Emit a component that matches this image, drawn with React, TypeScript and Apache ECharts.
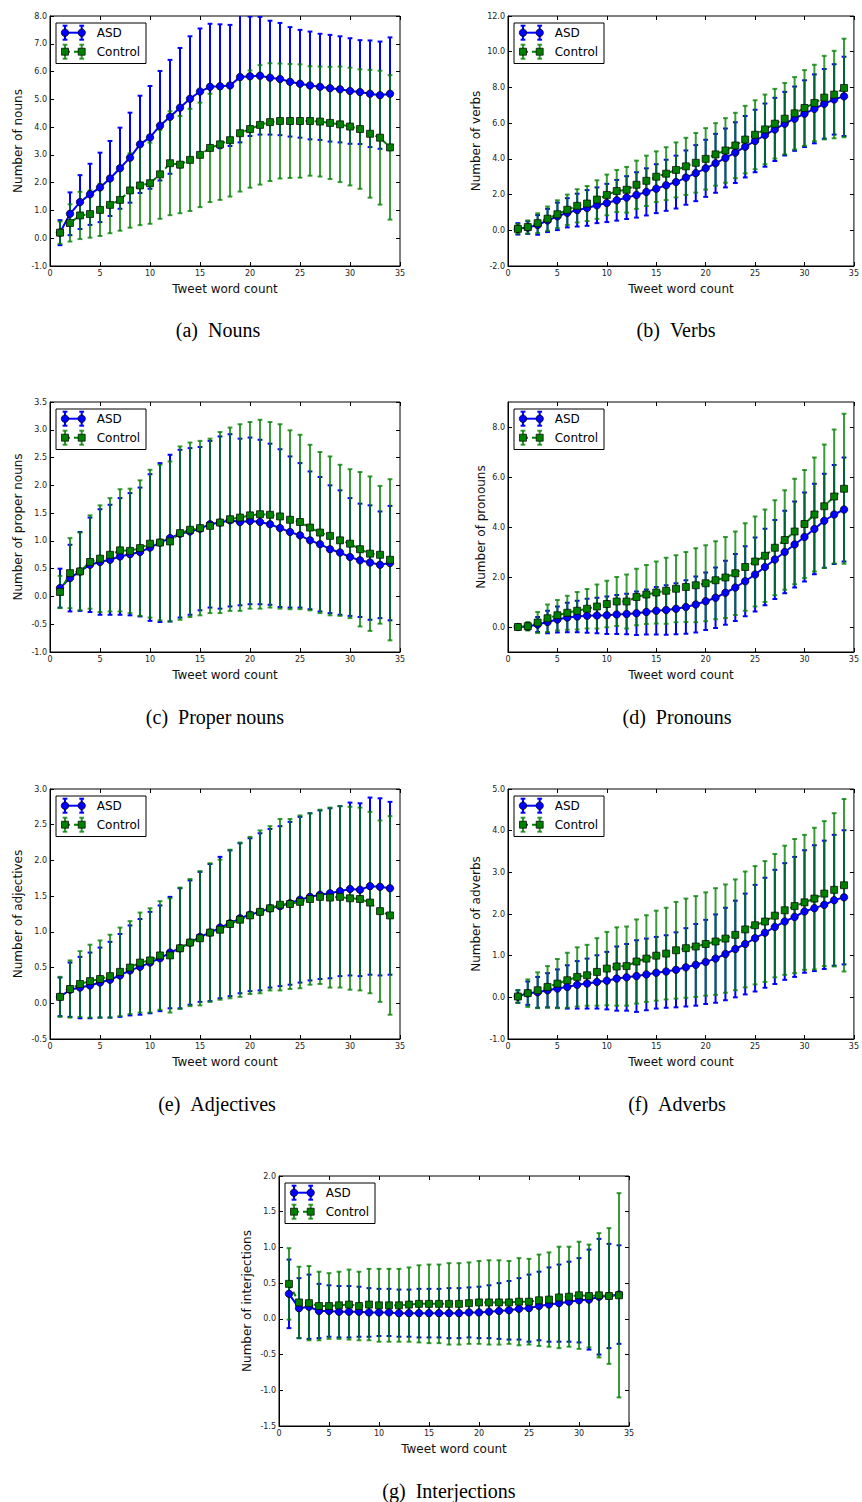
import React, { useEffect, useRef } from "react";
import * as echarts from "echarts";

const wordCount = [1, 2, 3, 4, 5, 6, 7, 8, 9, 10, 11, 12, 13, 14, 15, 16, 17, 18, 19, 20, 21, 22, 23, 24, 25, 26, 27, 28, 29, 30, 31, 32, 33, 34];
const xTicks = [0, 35, 5];

// (a) Nouns
const nounsAsdMean = [0.2, 0.88, 1.3, 1.58, 1.83, 2.15, 2.52, 2.9, 3.38, 3.63, 4.05, 4.37, 4.7, 5.02, 5.28, 5.45, 5.47, 5.5, 5.8, 5.83, 5.85, 5.78, 5.73, 5.63, 5.56, 5.5, 5.45, 5.4, 5.36, 5.3, 5.26, 5.2, 5.15, 5.2];
const nounsAsdStd = [0.45, 0.77, 0.97, 1.1, 1.25, 1.35, 1.46, 1.62, 1.75, 1.85, 1.97, 2.05, 2.15, 2.25, 2.27, 2.27, 2.23, 2.18, 2.35, 2.15, 2.12, 2.05, 2.02, 1.97, 1.94, 1.94, 1.91, 1.92, 1.91, 1.9, 1.87, 1.92, 1.93, 2.03];
const nounsCtrlMean = [0.2, 0.55, 0.82, 0.87, 1.02, 1.2, 1.38, 1.72, 1.9, 1.98, 2.3, 2.7, 2.65, 2.82, 3.0, 3.25, 3.38, 3.53, 3.78, 3.93, 4.08, 4.18, 4.22, 4.22, 4.22, 4.22, 4.2, 4.15, 4.1, 4.02, 3.93, 3.76, 3.62, 3.27];
const nounsCtrlStd = [0.4, 0.67, 0.85, 0.85, 0.94, 1.02, 1.11, 1.34, 1.43, 1.46, 1.6, 1.87, 1.75, 1.84, 1.88, 1.95, 2.0, 2.03, 2.1, 2.11, 2.15, 2.12, 2.07, 2.05, 2.04, 1.97, 1.98, 2.02, 2.08, 2.12, 2.15, 2.3, 2.41, 2.6];

// (b) Verbs
const verbsAsdMean = [0.08, 0.15, 0.3, 0.55, 0.78, 0.98, 1.13, 1.25, 1.4, 1.53, 1.68, 1.83, 1.98, 2.15, 2.33, 2.52, 2.7, 2.95, 3.2, 3.47, 3.75, 4.05, 4.35, 4.68, 5.0, 5.33, 5.65, 5.97, 6.25, 6.53, 6.8, 7.08, 7.33, 7.5];
const verbsAsdStd = [0.32, 0.35, 0.55, 0.65, 0.77, 0.82, 0.92, 1.0, 1.0, 1.07, 1.14, 1.2, 1.27, 1.32, 1.37, 1.43, 1.48, 1.52, 1.57, 1.6, 1.65, 1.65, 1.7, 1.72, 1.75, 1.77, 1.77, 1.78, 1.8, 1.87, 1.93, 1.95, 1.97, 2.22];
const verbsCtrlMean = [0.08, 0.18, 0.4, 0.65, 0.9, 1.15, 1.37, 1.5, 1.72, 1.98, 2.2, 2.27, 2.55, 2.77, 3.0, 3.17, 3.38, 3.58, 3.78, 4.0, 4.25, 4.47, 4.75, 5.08, 5.35, 5.65, 5.97, 6.25, 6.55, 6.85, 7.13, 7.43, 7.6, 7.97];
const verbsCtrlStd = [0.27, 0.37, 0.55, 0.68, 0.78, 0.85, 0.93, 0.98, 1.08, 1.14, 1.18, 1.28, 1.35, 1.41, 1.42, 1.48, 1.54, 1.6, 1.67, 1.72, 1.75, 1.81, 1.83, 1.89, 1.93, 1.95, 1.95, 2.0, 2.03, 2.12, 2.14, 2.34, 2.45, 2.76];

// (c) Proper nouns
const properAsdMean = [0.15, 0.33, 0.45, 0.57, 0.62, 0.66, 0.72, 0.76, 0.8, 0.88, 0.97, 1.05, 1.13, 1.17, 1.22, 1.3, 1.33, 1.37, 1.34, 1.36, 1.34, 1.3, 1.23, 1.16, 1.1, 1.01, 0.94, 0.85, 0.79, 0.71, 0.65, 0.61, 0.57, 0.6];
const properAsdStd = [0.35, 0.6, 0.71, 0.85, 0.95, 0.99, 1.05, 1.1, 1.16, 1.32, 1.43, 1.5, 1.51, 1.5, 1.47, 1.5, 1.55, 1.55, 1.5, 1.5, 1.48, 1.45, 1.42, 1.36, 1.3, 1.24, 1.21, 1.15, 1.12, 1.06, 1.02, 1.03, 0.96, 1.03];
const properCtrlMean = [0.08, 0.42, 0.45, 0.62, 0.68, 0.75, 0.83, 0.82, 0.87, 0.95, 0.97, 0.99, 1.14, 1.2, 1.23, 1.27, 1.33, 1.39, 1.42, 1.46, 1.48, 1.47, 1.44, 1.38, 1.34, 1.24, 1.15, 1.09, 1.01, 0.95, 0.85, 0.77, 0.75, 0.66];
const properCtrlStd = [0.29, 0.63, 0.7, 0.84, 0.96, 1.02, 1.1, 1.12, 1.22, 1.33, 1.4, 1.44, 1.56, 1.57, 1.57, 1.57, 1.63, 1.65, 1.68, 1.68, 1.7, 1.67, 1.66, 1.61, 1.57, 1.49, 1.45, 1.43, 1.36, 1.34, 1.39, 1.39, 1.24, 1.45];

// (d) Pronouns
const pronAsdMean = [0.0, 0.02, 0.1, 0.2, 0.3, 0.38, 0.42, 0.45, 0.46, 0.47, 0.5, 0.52, 0.55, 0.6, 0.65, 0.68, 0.73, 0.8, 0.9, 1.03, 1.17, 1.37, 1.58, 1.83, 2.1, 2.4, 2.7, 3.0, 3.3, 3.6, 3.92, 4.25, 4.5, 4.7];
const pronAsdStd = [0.02, 0.13, 0.3, 0.45, 0.52, 0.59, 0.63, 0.68, 0.71, 0.75, 0.78, 0.81, 0.87, 0.9, 0.95, 0.99, 1.02, 1.07, 1.12, 1.15, 1.21, 1.28, 1.34, 1.4, 1.48, 1.53, 1.58, 1.65, 1.72, 1.78, 1.81, 1.88, 1.98, 2.08];
const pronCtrlMean = [0.0, 0.03, 0.18, 0.35, 0.47, 0.57, 0.65, 0.73, 0.82, 0.92, 1.02, 1.02, 1.2, 1.3, 1.38, 1.45, 1.53, 1.6, 1.67, 1.75, 1.87, 1.98, 2.15, 2.4, 2.62, 2.85, 3.17, 3.48, 3.82, 4.12, 4.5, 4.83, 5.22, 5.53];
const pronCtrlStd = [0.02, 0.17, 0.42, 0.55, 0.61, 0.68, 0.75, 0.79, 0.88, 0.93, 0.98, 1.08, 1.13, 1.18, 1.24, 1.32, 1.34, 1.4, 1.48, 1.52, 1.56, 1.62, 1.67, 1.75, 1.8, 1.85, 1.9, 1.99, 2.11, 2.16, 2.28, 2.47, 2.68, 3.0];

// (e) Adjectives
const adjAsdMean = [0.09, 0.19, 0.22, 0.25, 0.29, 0.33, 0.39, 0.46, 0.51, 0.57, 0.63, 0.71, 0.77, 0.85, 0.93, 0.99, 1.06, 1.12, 1.19, 1.24, 1.28, 1.33, 1.36, 1.4, 1.45, 1.49, 1.52, 1.54, 1.57, 1.6, 1.59, 1.64, 1.63, 1.61];
const adjAsdStd = [0.27, 0.38, 0.43, 0.46, 0.49, 0.53, 0.58, 0.63, 0.67, 0.71, 0.74, 0.78, 0.84, 0.87, 0.91, 0.96, 0.99, 1.02, 1.05, 1.07, 1.1, 1.11, 1.12, 1.14, 1.16, 1.17, 1.18, 1.19, 1.19, 1.21, 1.21, 1.24, 1.24, 1.21];
const adjCtrlMean = [0.09, 0.2, 0.27, 0.31, 0.34, 0.38, 0.44, 0.5, 0.57, 0.6, 0.67, 0.67, 0.77, 0.85, 0.91, 0.99, 1.03, 1.11, 1.17, 1.23, 1.28, 1.33, 1.38, 1.39, 1.42, 1.46, 1.49, 1.48, 1.49, 1.47, 1.46, 1.41, 1.29, 1.23];
const adjCtrlStd = [0.28, 0.4, 0.46, 0.51, 0.54, 0.58, 0.62, 0.65, 0.7, 0.73, 0.76, 0.8, 0.85, 0.89, 0.94, 0.97, 0.98, 1.04, 1.08, 1.1, 1.14, 1.15, 1.2, 1.19, 1.21, 1.2, 1.22, 1.26, 1.27, 1.28, 1.28, 1.27, 1.27, 1.39];

// (f) Adverbs
const advAsdMean = [0.02, 0.1, 0.12, 0.17, 0.21, 0.25, 0.3, 0.33, 0.37, 0.4, 0.45, 0.48, 0.51, 0.55, 0.59, 0.62, 0.66, 0.72, 0.78, 0.85, 0.93, 1.04, 1.16, 1.28, 1.42, 1.55, 1.69, 1.82, 1.93, 2.06, 2.14, 2.22, 2.33, 2.4];
const advAsdStd = [0.15, 0.28, 0.37, 0.41, 0.46, 0.52, 0.57, 0.6, 0.64, 0.69, 0.77, 0.8, 0.86, 0.86, 0.86, 0.87, 0.9, 0.94, 0.98, 1.01, 1.06, 1.11, 1.16, 1.21, 1.28, 1.32, 1.37, 1.4, 1.44, 1.47, 1.51, 1.54, 1.57, 1.61];
const advCtrlMean = [0.02, 0.1, 0.17, 0.25, 0.33, 0.41, 0.49, 0.53, 0.61, 0.69, 0.74, 0.75, 0.86, 0.93, 1.0, 1.05, 1.13, 1.18, 1.22, 1.28, 1.34, 1.41, 1.5, 1.63, 1.73, 1.82, 1.96, 2.09, 2.19, 2.28, 2.37, 2.49, 2.58, 2.69];
const advCtrlStd = [0.15, 0.33, 0.43, 0.5, 0.59, 0.66, 0.71, 0.73, 0.81, 0.88, 0.94, 0.95, 1.01, 1.04, 1.08, 1.1, 1.16, 1.19, 1.21, 1.24, 1.28, 1.3, 1.33, 1.39, 1.42, 1.45, 1.48, 1.55, 1.61, 1.62, 1.7, 1.74, 1.84, 2.07];

// (g) Interjections
const intjAsdMean = [0.35, 0.15, 0.17, 0.11, 0.11, 0.1, 0.1, 0.1, 0.09, 0.09, 0.09, 0.08, 0.08, 0.08, 0.08, 0.08, 0.08, 0.08, 0.09, 0.09, 0.1, 0.11, 0.12, 0.14, 0.15, 0.18, 0.2, 0.22, 0.24, 0.26, 0.27, 0.31, 0.32, 0.34];
const intjAsdStd = [0.48, 0.42, 0.45, 0.38, 0.36, 0.36, 0.36, 0.35, 0.34, 0.33, 0.33, 0.33, 0.33, 0.34, 0.34, 0.34, 0.35, 0.35, 0.35, 0.36, 0.37, 0.39, 0.41, 0.43, 0.47, 0.48, 0.52, 0.54, 0.56, 0.59, 0.7, 0.81, 0.73, 0.69];
const intjCtrlMean = [0.49, 0.23, 0.22, 0.18, 0.18, 0.19, 0.2, 0.18, 0.2, 0.19, 0.19, 0.19, 0.2, 0.21, 0.21, 0.21, 0.21, 0.21, 0.22, 0.23, 0.23, 0.23, 0.23, 0.24, 0.24, 0.26, 0.27, 0.3, 0.31, 0.33, 0.32, 0.33, 0.32, 0.33];
const intjCtrlStd = [0.5, 0.5, 0.52, 0.48, 0.46, 0.47, 0.49, 0.48, 0.5, 0.51, 0.51, 0.51, 0.52, 0.54, 0.55, 0.55, 0.57, 0.57, 0.57, 0.58, 0.59, 0.59, 0.58, 0.61, 0.6, 0.64, 0.66, 0.71, 0.7, 0.75, 0.72, 0.87, 0.95, 1.43];

const yTitles = ["Number of nouns", "Number of verbs", "Number of proper nouns", "Number of pronouns", "Number of adjectives", "Number of adverbs", "Number of interjections"];
const captions = ["(a)\u00a0\u00a0Nouns", "(b)\u00a0\u00a0Verbs", "(c)\u00a0\u00a0Proper nouns", "(d)\u00a0\u00a0Pronouns", "(e)\u00a0\u00a0Adjectives", "(f)\u00a0\u00a0Adverbs", "(g)\u00a0\u00a0Interjections"];
// [min, max, interval]
const yRanges = [[-1, 8, 1], [-2, 12, 2], [-1, 3.5, 0.5], [-1, 9, 1], [-0.5, 3, 0.5], [-1, 5, 1], [-1.5, 2, 0.5]];
const pronounTicks = [0, 2, 4, 6, 8];
const seriesNames = ["ASD", "Control"];

const panelData = [
  [nounsAsdMean, nounsAsdStd, nounsCtrlMean, nounsCtrlStd],
  [verbsAsdMean, verbsAsdStd, verbsCtrlMean, verbsCtrlStd],
  [properAsdMean, properAsdStd, properCtrlMean, properCtrlStd],
  [pronAsdMean, pronAsdStd, pronCtrlMean, pronCtrlStd],
  [adjAsdMean, adjAsdStd, adjCtrlMean, adjCtrlStd],
  [advAsdMean, advAsdStd, advCtrlMean, advCtrlStd],
  [intjAsdMean, intjAsdStd, intjCtrlMean, intjCtrlStd],
];

// layout
const GW = 350;
const GH = 250;
const layout = [
  { left: 50, top: 16, nameGap: 26, capX: 218, capY: 330 },
  { left: 508, top: 16, nameGap: 26.5, capX: 676, capY: 330 },
  { left: 50, top: 402, nameGap: 26, capX: 215, capY: 717 },
  { left: 508, top: 402, nameGap: 21.5, capX: 677, capY: 717 },
  { left: 50, top: 789, nameGap: 26, capX: 217, capY: 1104 },
  { left: 508, top: 789, nameGap: 26.5, capX: 677, capY: 1104 },
  { left: 279, top: 1176, nameGap: 26, capX: 449, capY: 1491 },
];

const BLUE = "#0000ff";
const GREEN = "#008000";
const FONT = "DejaVu Sans";
const GREEN_BAR_OPACITY = 0.78;

function errorBarSeries(mean: number[], std: number[], color: string, opacity: number, idx: number) {
  return {
    type: "custom",
    xAxisIndex: 2 * idx,
    yAxisIndex: 2 * idx,
    clip: true,
    silent: true,
    z: 2,
    data: wordCount.map((x, i) => [x, mean[i] - std[i], mean[i] + std[i]]),
    encode: { x: 0, y: [1, 2] },
    renderItem: (params: any, api: any) => {
      const x = api.value(0);
      const a = api.coord([x, api.value(1)]);
      const b = api.coord([x, api.value(2)]);
      const cw = 2.4;
      const st = { stroke: color, lineWidth: 2, opacity };
      return {
        type: "group",
        children: [
          { type: "line", shape: { x1: a[0], y1: a[1], x2: b[0], y2: b[1] }, style: st },
          { type: "line", shape: { x1: a[0] - cw, y1: a[1], x2: a[0] + cw, y2: a[1] }, style: st },
          { type: "line", shape: { x1: b[0] - cw, y1: b[1], x2: b[0] + cw, y2: b[1] }, style: st },
        ],
      };
    },
  };
}

function legendBar(x: number, y: number, color: string, opacity: number) {
  const st = { stroke: color, lineWidth: 2, opacity };
  return [
    { type: "line", shape: { x1: x, y1: y - 7, x2: x, y2: y + 7 }, style: st },
    { type: "line", shape: { x1: x - 2.4, y1: y - 7, x2: x + 2.4, y2: y - 7 }, style: st },
    { type: "line", shape: { x1: x - 2.4, y1: y + 7, x2: x + 2.4, y2: y + 7 }, style: st },
  ];
}

function legendGraphic(gl: number, gt: number) {
  const bx = gl + 6;
  const by = gt + 7;
  const r1 = gt + 16.7;
  const r2 = gt + 35.7;
  const x1 = gl + 15;
  const x2 = gl + 31.7;
  const children: any[] = [
    { type: "rect", shape: { x: bx, y: by, width: 90, height: 40.5 }, style: { fill: "#fff", stroke: "#000", lineWidth: 1 } },
    { type: "line", shape: { x1, y1: r1, x2, y2: r1 }, style: { stroke: BLUE, lineWidth: 2 } },
    ...legendBar(x1, r1, BLUE, 1),
    ...legendBar(x2, r1, BLUE, 1),
    { type: "circle", shape: { cx: x1, cy: r1, r: 3.75 }, style: { fill: BLUE, stroke: "#000", lineWidth: 0.7 } },
    { type: "circle", shape: { cx: x2, cy: r1, r: 3.75 }, style: { fill: BLUE, stroke: "#000", lineWidth: 0.7 } },
    { type: "text", style: { text: seriesNames[0], x: gl + 46.7, y: r1, fontSize: 12, fontFamily: FONT, fill: "#000", align: "left", verticalAlign: "middle" } },
    { type: "line", shape: { x1, y1: r2, x2, y2: r2 }, style: { stroke: GREEN, lineWidth: 2, lineDash: [5, 4] } },
    ...legendBar(x1, r2, GREEN, GREEN_BAR_OPACITY),
    ...legendBar(x2, r2, GREEN, GREEN_BAR_OPACITY),
    { type: "rect", shape: { x: x1 - 3.5, y: r2 - 3.5, width: 7, height: 7 }, style: { fill: GREEN, stroke: "#000", lineWidth: 0.7 } },
    { type: "rect", shape: { x: x2 - 3.5, y: r2 - 3.5, width: 7, height: 7 }, style: { fill: GREEN, stroke: "#000", lineWidth: 0.7 } },
    { type: "text", style: { text: seriesNames[1], x: gl + 46.7, y: r2, fontSize: 12, fontFamily: FONT, fill: "#000", align: "left", verticalAlign: "middle" } },
  ];
  return { type: "group", silent: true, z: 100, children };
}

function buildOption() {
  const grid: any[] = [];
  const xAxis: any[] = [];
  const yAxis: any[] = [];
  const series: any[] = [];
  const graphic: any[] = [];
  const tickStyle = { show: true, inside: true, length: 4, lineStyle: { color: "#000", width: 1 } };

  layout.forEach((L, i) => {
    grid.push({ left: L.left, top: L.top, width: GW, height: GH, show: true, borderColor: "#000", borderWidth: 1, backgroundColor: "transparent" });
    xAxis.push({
      gridIndex: i, type: "value", min: xTicks[0], max: xTicks[1], interval: xTicks[2],
      axisLine: { show: true, onZero: false, lineStyle: { color: "#000", width: 1 } },
      axisTick: tickStyle,
      axisLabel: { fontFamily: FONT, fontSize: 8, color: "#222", margin: 3 },
      splitLine: { show: false },
      name: "Tweet word count", nameLocation: "middle", nameGap: 17,
      nameTextStyle: { fontFamily: FONT, fontSize: 12, color: "#111" },
    });
    xAxis.push({
      gridIndex: i, type: "value", position: "top", min: xTicks[0], max: xTicks[1], interval: xTicks[2],
      axisLine: { show: false, onZero: false }, axisTick: tickStyle, axisLabel: { show: false }, splitLine: { show: false },
    });
    const [ymin, ymax, yint] = yRanges[i];
    const custom = i === 3;
    const mainTick: any = custom ? { ...tickStyle, customValues: pronounTicks } : tickStyle;
    const mainLabel: any = { fontFamily: FONT, fontSize: 8, color: "#222", margin: 3, formatter: (v: number) => v.toFixed(1) };
    if (custom) mainLabel.customValues = pronounTicks;
    yAxis.push({
      gridIndex: i, type: "value", min: ymin, max: ymax, interval: yint,
      axisLine: { show: true, onZero: false, lineStyle: { color: "#000", width: 1 } },
      axisTick: mainTick, axisLabel: mainLabel, splitLine: { show: false },
      name: yTitles[i], nameLocation: "middle", nameGap: L.nameGap,
      nameTextStyle: { fontFamily: FONT, fontSize: 12, color: "#111" },
    });
    yAxis.push({
      gridIndex: i, type: "value", position: "right", min: ymin, max: ymax, interval: yint,
      axisLine: { show: false, onZero: false }, axisTick: mainTick, axisLabel: { show: false }, splitLine: { show: false },
    });

    const [am, as, cm, cs] = panelData[i];
    series.push(errorBarSeries(am, as, BLUE, 1, i));
    series.push(errorBarSeries(cm, cs, GREEN, GREEN_BAR_OPACITY, i));
    series.push({
      type: "line", name: seriesNames[0], xAxisIndex: 2 * i, yAxisIndex: 2 * i, silent: true, z: 3,
      data: wordCount.map((x, k) => [x, am[k]]),
      symbol: "circle", symbolSize: 7.5, showSymbol: true,
      itemStyle: { color: BLUE, borderColor: "#000", borderWidth: 0.7 },
      lineStyle: { color: BLUE, width: 2 },
    });
    series.push({
      type: "line", name: seriesNames[1], xAxisIndex: 2 * i, yAxisIndex: 2 * i, silent: true, z: 3,
      data: wordCount.map((x, k) => [x, cm[k]]),
      symbol: "rect", symbolSize: 7, showSymbol: true,
      itemStyle: { color: GREEN, borderColor: "#000", borderWidth: 0.7 },
      lineStyle: { color: GREEN, width: 2, type: [5, 4] },
    });

    graphic.push(legendGraphic(L.left, L.top));
    graphic.push({
      type: "text", silent: true, z: 100,
      style: { text: captions[i], x: L.capX, y: L.capY, fontSize: 20, fontFamily: "Liberation Serif", fill: "#000", align: "center", verticalAlign: "middle" },
    });
  });

  return { animation: false, backgroundColor: "#fff", grid, xAxis, yAxis, series, graphic };
}

export default function App() {
  const ref = useRef<HTMLDivElement>(null);
  useEffect(() => {
    if (!ref.current) return;
    const chart = echarts.init(ref.current, undefined, { renderer: "svg" });
    chart.setOption(buildOption() as any);
    return () => chart.dispose();
  }, []);
  return <div ref={ref} style={{ position: "absolute", left: 0, top: 0, width: 862, height: 1502 }} />;
}
